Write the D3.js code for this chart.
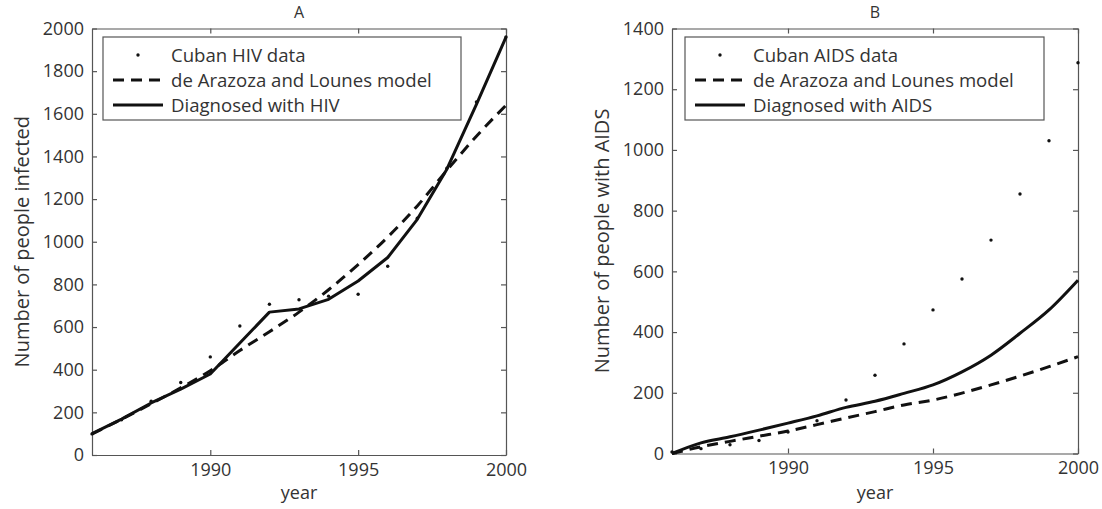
<!DOCTYPE html>
<html>
<head>
<meta charset="utf-8">
<script src="https://cdn.jsdelivr.net/npm/d3@7"></script>
<style>
  body { margin: 0; background: #fff; }
  svg { display: block; font-family: "Open Sans", sans-serif; }
</style>
</head>
<body>
<svg id="chart" width="1102" height="509"></svg>
<script>
// Years covered by both panels
const years = [1986, 1987, 1988, 1989, 1990, 1991, 1992, 1993, 1994, 1995, 1996, 1997, 1998, 1999, 2000];
const yearTicks = [1990, 1995, 2000];

// Panel A: HIV
const hivData      = [99, 165, 252, 340, 460, 605, 707, 728, 745, 754, 885, 1110, 1345, 1655, 1960];
const hivModel     = [98, 168, 240, 315, 395, 490, 578, 670, 775, 893, 1022, 1168, 1335, 1495, 1640];
const hivDiagnosed = [100, 168, 244, 309, 380, 525, 670, 685, 730, 816, 926, 1105, 1340, 1644, 1960];
const hivTicks = [0, 200, 400, 600, 800, 1000, 1200, 1400, 1600, 1800, 2000];

// Panel B: AIDS
const aidsData      = [5, 16, 29, 43, 71, 108, 176, 258, 361, 473, 575, 703, 855, 1030, 1287];
const aidsModel     = [0, 22, 40, 57, 74, 95, 117, 138, 160, 176, 199, 226, 255, 286, 319];
const aidsDiagnosed = [0, 35, 55, 77, 100, 124, 152, 172, 198, 226, 269, 324, 396, 473, 571];
const aidsTicks = [0, 200, 400, 600, 800, 1000, 1200, 1400];

const legendA = ["Cuban HIV data", "de Arazoza and Lounes model", "Diagnosed with HIV"];
const legendB = ["Cuban AIDS data", "de Arazoza and Lounes model", "Diagnosed with AIDS"];

const svg = d3.select("#chart");
const axisColor = "#555";
const textColor = "#333";
const fontSize = 18;

function panel(cfg) {
  const g = svg.append("g");
  const x = d3.scaleLinear().domain([1986, 2000]).range([cfg.left, cfg.right]);
  const y = d3.scaleLinear().domain([0, cfg.yMax]).range([cfg.bottom, cfg.top]);

  // Axes with inward ticks on all four sides
  const tick = 5;
  const ax = (gen, tx, ty, labels) => {
    const a = g.append("g").attr("transform", `translate(${tx},${ty})`).call(gen);
    a.select(".domain").attr("stroke", axisColor).attr("stroke-width", 1.2);
    a.selectAll(".tick line").attr("stroke", axisColor).attr("stroke-width", 1.2);
    a.selectAll(".tick text").attr("fill", textColor).style("font-size", fontSize + "px")
      .style("font-family", "'Open Sans', sans-serif");
    if (!labels) a.selectAll(".tick text").remove();
    return a;
  };
  ax(d3.axisBottom(x).tickValues(yearTicks).tickFormat(d3.format("d")).tickSizeInner(-tick).tickSizeOuter(0).tickPadding(8), 0, cfg.bottom, true);
  ax(d3.axisTop(x).tickValues(yearTicks).tickSizeInner(-tick).tickSizeOuter(0), 0, cfg.top, false);
  ax(d3.axisLeft(y).tickValues(cfg.ticks).tickFormat(d3.format("d")).tickSizeInner(-tick).tickSizeOuter(0).tickPadding(8), cfg.left, 0, true);
  ax(d3.axisRight(y).tickValues(cfg.ticks).tickSizeInner(-tick).tickSizeOuter(0), cfg.right, 0, false);

  // Title and axis labels
  g.append("text").attr("x", (cfg.left + cfg.right) / 2).attr("y", 18)
    .attr("text-anchor", "middle").attr("fill", textColor).style("font-size", "16px").text(cfg.title);
  g.append("text").attr("x", (cfg.left + cfg.right) / 2).attr("y", 499)
    .attr("text-anchor", "middle").attr("fill", textColor).style("font-size", fontSize + "px").text("year");
  g.append("text")
    .attr("transform", `translate(${cfg.ylabelX},${(cfg.top + cfg.bottom) / 2}) rotate(-90)`)
    .attr("text-anchor", "middle").attr("fill", textColor).style("font-size", "20px").text(cfg.ylabel);

  // Series
  const rows = years.map((yr, i) => ({ yr, d: cfg.data[i], m: cfg.model[i], s: cfg.diag[i] }));
  const lineM = d3.line().x(r => x(r.yr)).y(r => y(r.m)).curve(d3.curveMonotoneX);
  const lineS = d3.line().x(r => x(r.yr)).y(r => y(r.s)).curve(cfg.diagCurve);

  g.append("path").datum(rows).attr("d", lineM).attr("fill", "none")
    .attr("stroke", "#111").attr("stroke-width", 3).attr("stroke-dasharray", "11,7");
  g.append("path").datum(rows).attr("d", lineS).attr("fill", "none")
    .attr("stroke", "#111").attr("stroke-width", 3).attr("stroke-linejoin", "round");
  g.selectAll(".dot").data(rows).join("circle").attr("class", "dot")
    .attr("cx", r => x(r.yr)).attr("cy", r => y(r.d)).attr("r", 1.7).attr("fill", "#111");

  // Legend
  const L = cfg.legend;
  g.append("rect").attr("x", L.x).attr("y", 37).attr("width", L.w).attr("height", 83)
    .attr("fill", "#fff").attr("stroke", axisColor).attr("stroke-width", 1.2);
  const rowY = [55, 80, 105];
  const sx0 = L.x + 10, sx1 = L.x + 60, tx = L.x + 68;
  g.append("circle").attr("cx", (sx0 + sx1) / 2).attr("cy", rowY[0]).attr("r", 1.7).attr("fill", "#111");
  g.append("line").attr("x1", sx0).attr("x2", sx1).attr("y1", rowY[1]).attr("y2", rowY[1])
    .attr("stroke", "#111").attr("stroke-width", 3).attr("stroke-dasharray", "11,7");
  g.append("line").attr("x1", sx0).attr("x2", sx1).attr("y1", rowY[2]).attr("y2", rowY[2])
    .attr("stroke", "#111").attr("stroke-width", 3);
  cfg.legendText.forEach((t, i) => {
    g.append("text").attr("x", tx).attr("y", rowY[i]).attr("dy", "0.35em")
      .attr("fill", textColor).style("font-size", "18.6px").text(t);
  });
}

panel({
  left: 92, right: 506, top: 28.5, bottom: 455, yMax: 2000, ticks: hivTicks,
  title: "A", ylabel: "Number of people infected", ylabelX: 29,
  data: hivData, model: hivModel, diag: hivDiagnosed, diagCurve: d3.curveLinear,
  legend: { x: 103, w: 358 }, legendText: legendA
});

panel({
  left: 672, right: 1078, top: 28.5, bottom: 453.5, yMax: 1400, ticks: aidsTicks,
  title: "B", ylabel: "Number of people with AIDS", ylabelX: 609,
  data: aidsData, model: aidsModel, diag: aidsDiagnosed, diagCurve: d3.curveMonotoneX,
  legend: { x: 685, w: 359 }, legendText: legendB
});
</script>
</body>
</html>
